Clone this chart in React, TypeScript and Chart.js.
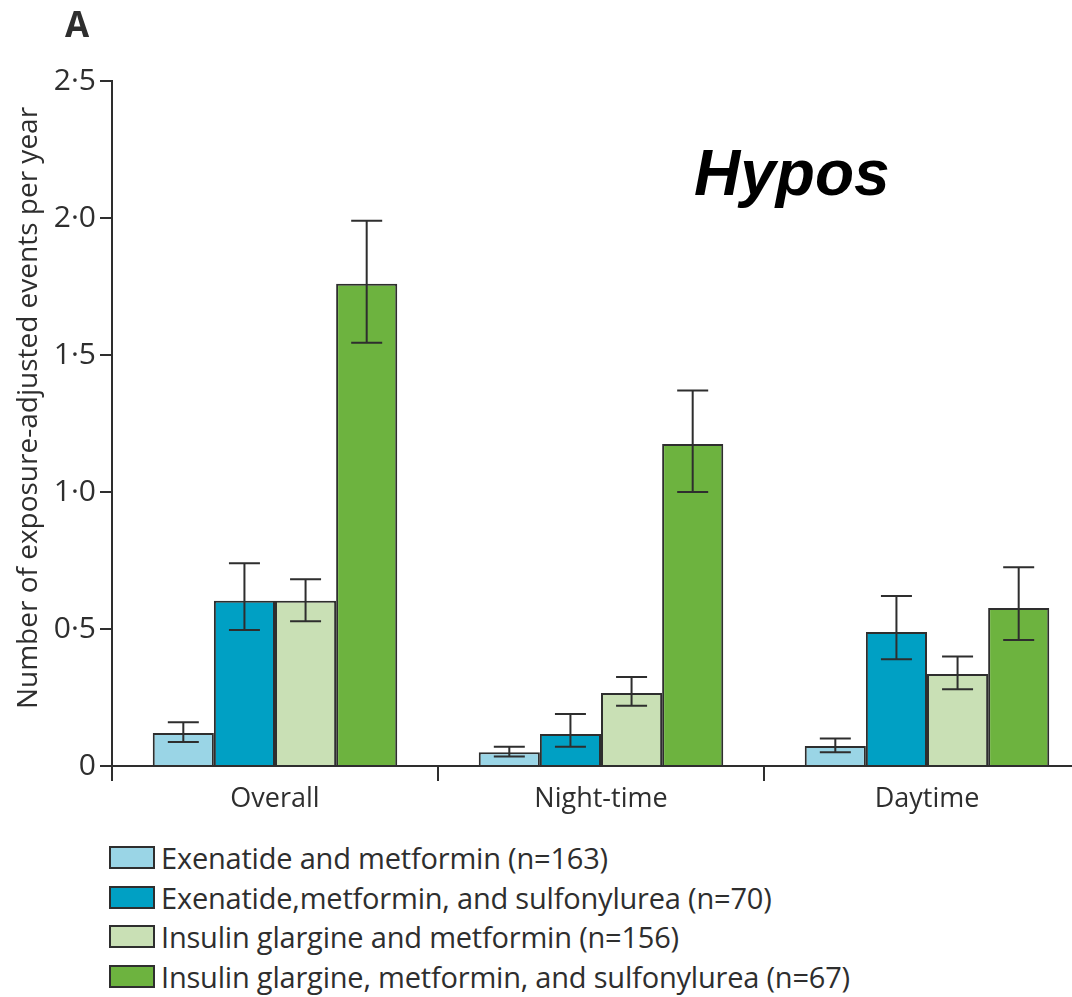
import React, { useEffect, useRef } from "react";
import { Chart, registerables } from "chart.js";

Chart.register(...registerables);

const categories = ["Overall", "Night-time", "Daytime"];
const seriesNames = [
  "Exenatide and metformin (n=163)",
  "Exenatide,metformin, and sulfonylurea (n=70)",
  "Insulin glargine and metformin (n=156)",
  "Insulin glargine, metformin, and sulfonylurea (n=67)",
];
const seriesColors = ["#9ad5e6", "#00a0c4", "#c9e0b5", "#6db33f"];

const exenMet = [0.12, 0.05, 0.073];
const exenMetSu = [0.603, 0.117, 0.489];
const glarMet = [0.603, 0.266, 0.336];
const glarMetSu = [1.76, 1.175, 0.577];

const exenMetLow = [0.088, 0.035, 0.05];
const exenMetHigh = [0.16, 0.07, 0.1];
const exenMetSuLow = [0.496, 0.07, 0.39];
const exenMetSuHigh = [0.74, 0.19, 0.62];
const glarMetLow = [0.528, 0.22, 0.28];
const glarMetHigh = [0.682, 0.325, 0.4];
const glarMetSuLow = [1.545, 1.0, 0.46];
const glarMetSuHigh = [1.99, 1.37, 0.725];

const yTickValues = [0, 0.5, 1, 1.5, 2, 2.5];
const yTickLabels = ["0", "0·5", "1·0", "1·5", "2·0", "2·5"];

const yTitle = "Number of exposure-adjusted events per year";
const panelLabel = "A";
const chartNote = "Hypos";

const seriesValues = [exenMet, exenMetSu, glarMet, glarMetSu];
const seriesLow = [exenMetLow, exenMetSuLow, glarMetLow, glarMetSuLow];
const seriesHigh = [exenMetHigh, exenMetSuHigh, glarMetHigh, glarMetSuHigh];

const INK = "#2e2e2e";
const FONT = "'Open Sans', sans-serif";

const errorBarPlugin = {
  id: "errorBars",
  afterDatasetsDraw(chart: any) {
    const ctx = chart.ctx;
    const y = chart.scales.y;
    ctx.save();
    ctx.strokeStyle = INK;
    ctx.lineWidth = 2;
    chart.data.datasets.forEach((_ds: any, i: number) => {
      const meta = chart.getDatasetMeta(i);
      meta.data.forEach((bar: any, j: number) => {
        const x = bar.x;
        const lo = y.getPixelForValue(seriesLow[i][j]);
        const hi = y.getPixelForValue(seriesHigh[i][j]);
        const cap = 15.5;
        ctx.beginPath();
        ctx.moveTo(x, lo);
        ctx.lineTo(x, hi);
        ctx.moveTo(x - cap, lo);
        ctx.lineTo(x + cap, lo);
        ctx.moveTo(x - cap, hi);
        ctx.lineTo(x + cap, hi);
        ctx.stroke();
      });
    });
    ctx.restore();
  },
};

const textPlugin = {
  id: "extraText",
  afterDraw(chart: any) {
    const ctx = chart.ctx;
    ctx.save();
    ctx.fillStyle = INK;
    ctx.textBaseline = "alphabetic";
    ctx.textAlign = "left";
    ctx.font = `bold 35px ${FONT}`;
    ctx.fillText(panelLabel, 65, 37);
    ctx.fillStyle = "#000";
    ctx.font = "italic bold 64px 'Liberation Sans', Arial, sans-serif";
    ctx.fillText(chartNote, 694, 195);
    // y-axis title
    ctx.fillStyle = INK;
    ctx.font = `28px ${FONT}`;
    ctx.textAlign = "center";
    ctx.translate(37, 408);
    ctx.rotate(-Math.PI / 2);
    ctx.fillText(yTitle, 0, 0);
    ctx.restore();
  },
};

export default function App() {
  const canvasRef = useRef<HTMLCanvasElement | null>(null);

  useEffect(() => {
    if (!canvasRef.current) return;
    const chart = new Chart(canvasRef.current, {
      type: "bar",
      data: {
        labels: categories,
        datasets: seriesValues.map((vals, i) => ({
          label: seriesNames[i],
          data: vals,
          backgroundColor: seriesColors[i],
          borderColor: INK,
          borderWidth: 2,
          borderSkipped: "bottom",
          categoryPercentage: 0.75,
          barPercentage: 1.0,
        })),
      },
      options: {
        animation: false,
        responsive: false,
        maintainAspectRatio: false,
        layout: { padding: { top: 81, right: 10, left: 0, bottom: 0 } },
        plugins: {
          legend: { display: false },
          tooltip: { enabled: false },
        },
        scales: {
          x: {
            offset: true,
            grid: {
              offset: true,
              drawOnChartArea: false,
              drawTicks: true,
              tickLength: 15,
              color: INK,
              lineWidth: 2,
            },
            border: { display: true, color: INK, width: 2 },
            ticks: {
              color: INK,
              font: { family: FONT, size: 27 },
              padding: 2,
            },
            afterFit: (scale: any) => {
              scale.height = 60;
            },
          },
          y: {
            min: 0,
            max: 2.5,
            afterBuildTicks: (scale: any) => {
              scale.ticks = yTickValues.map((v) => ({ value: v }));
            },
            grid: {
              drawOnChartArea: false,
              drawTicks: true,
              tickLength: 12,
              color: INK,
              lineWidth: 2,
            },
            border: { display: true, color: INK, width: 2 },
            ticks: {
              color: INK,
              font: { family: FONT, size: 30 },
              padding: 4,
              callback: (value: any) => {
                const idx = yTickValues.indexOf(Number(value));
                return idx >= 0 ? yTickLabels[idx] : "";
              },
            },
            title: { display: false },
            afterFit: (scale: any) => {
              scale.width = 112;
            },
          },
        },
      },
      plugins: [errorBarPlugin, textPlugin],
    });
    return () => chart.destroy();
  }, []);

  return (
    <div
      style={{
        position: "fixed",
        left: 0,
        top: 0,
        width: 1072,
        height: 997,
        overflow: "hidden",
        background: "#fff",
      }}
    >
      <canvas
        ref={canvasRef}
        width={1100}
        height={826}
        style={{ position: "absolute", left: 0, top: 0, width: 1100, height: 826 }}
      />
      <div
        style={{
          position: "absolute",
          left: 109,
          top: 838,
          fontFamily: FONT,
          fontSize: 29,
          color: INK,
        }}
      >
        {seriesNames.map((name, i) => (
          <div
            key={name}
            style={{ display: "flex", alignItems: "center", height: 39.5, whiteSpace: "nowrap" }}
          >
            <span
              style={{
                display: "inline-block",
                width: 42,
                height: 19,
                background: seriesColors[i],
                border: `2px solid ${INK}`,
                marginRight: 6,
                flex: "none",
              }}
            />
            <span style={{ letterSpacing: -0.2 }}>{name}</span>
          </div>
        ))}
      </div>
    </div>
  );
}
